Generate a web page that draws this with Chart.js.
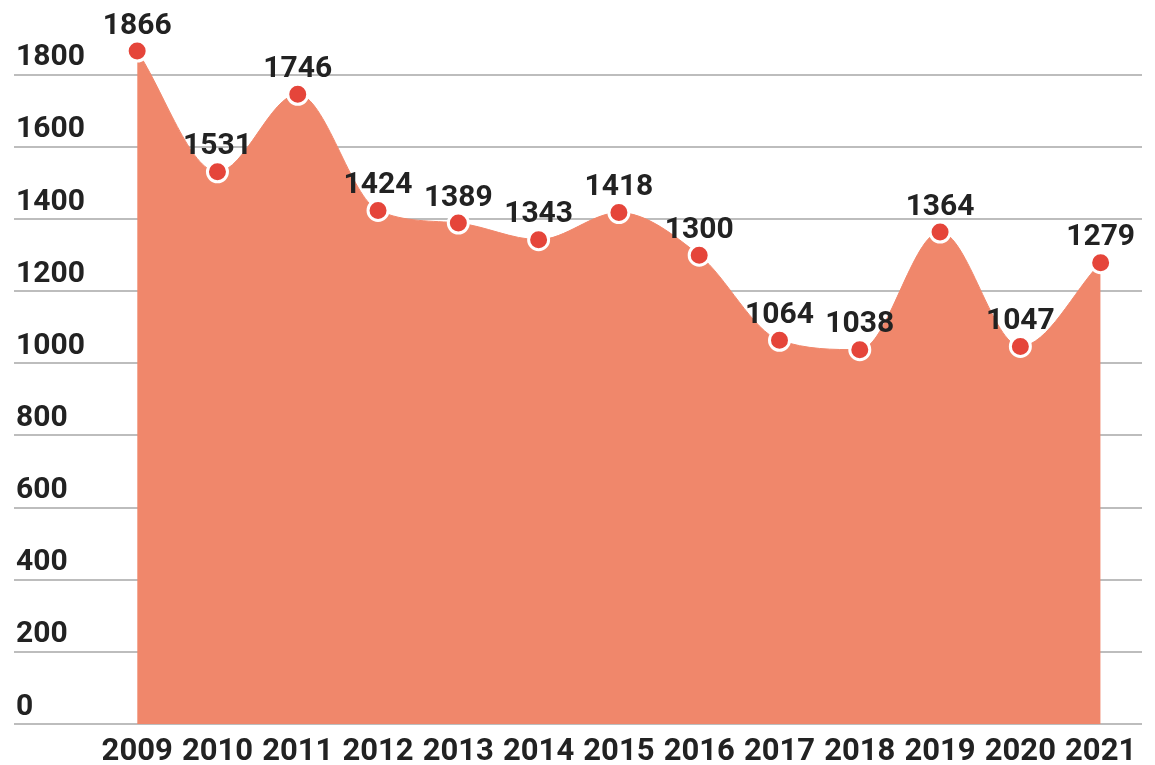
<!DOCTYPE html>
<html>
<head>
<meta charset="utf-8">
<script src="https://cdn.jsdelivr.net/npm/chart.js@4"></script>
<style>
  html, body { margin:0; padding:0; background:#fff; }
  #wrap { width:1155px; height:765px; }
</style>
</head>
<body>
<div id="wrap"><canvas id="chart" width="1155" height="765"></canvas></div>
<script>
// data
var years = [2009, 2010, 2011, 2012, 2013, 2014, 2015, 2016, 2017, 2018, 2019, 2020, 2021];
var values = [1866, 1531, 1746, 1424, 1389, 1343, 1418, 1300, 1064, 1038, 1364, 1047, 1279];
var yTicks = [0, 200, 400, 600, 800, 1000, 1200, 1400, 1600, 1800];

var points = [];
for (var i = 0; i < years.length; i++) {
    points.push({x: years[i], y: values[i]});
}

Chart.defaults.font.family = "Roboto";

// numbers above the points
var valueLabels = {
    id: 'valueLabels',
    afterDatasetsDraw: function(chart) {
        var ctx = chart.ctx;
        var meta = chart.getDatasetMeta(0);
        ctx.save();
        ctx.font = "bold 30px Roboto";
        ctx.fillStyle = "#222";
        ctx.textAlign = "center";
        ctx.textBaseline = "bottom";
        meta.data.forEach(function(p, i) {
            ctx.fillText(String(values[i]), p.x, p.y - 10);
        });
        ctx.restore();
    }
};

chart = new Chart(document.getElementById("chart"), {
    type: 'line',
    data: {
        datasets: [{
            data: points,
            fill: 'origin',
            backgroundColor: '#F0876B',
            borderColor: '#F0876B',
            borderWidth: 1,
            cubicInterpolationMode: 'monotone',
            pointRadius: 10,
            pointBorderWidth: 3,
            pointBackgroundColor: '#E5453A',
            pointBorderColor: '#fff'
        }]
    },
    options: {
        responsive: false,
        animation: false,
        layout: { padding: { left: 10, top: 0, right: 0, bottom: -16 } },
        plugins: { legend: { display: false }, tooltip: { enabled: false } },
        scales: {
            x: {
                type: 'linear',
                min: 2007.466,
                max: 2021.515,
                afterBuildTicks: function(axis) {
                    axis.ticks = years.map(function(y) { return {value: y}; });
                },
                grid: { display: false, tickLength: 0 },
                border: { display: false },
                ticks: {
                    autoSkip: false,
                    maxRotation: 0,
                    padding: 13,
                    color: '#222',
                    font: { size: 31, weight: 'bold', lineHeight: 1 },
                    callback: function(v) { return String(v); }
                }
            },
            y: {
                min: 0,
                max: 1952,
                afterBuildTicks: function(axis) {
                    axis.ticks = yTicks.map(function(v) { return {value: v}; });
                },
                border: { display: false },
                grid: { color: '#bdbdbd', lineWidth: 2, drawTicks: false },
                ticks: {
                    mirror: true,
                    padding: 2,
                    labelOffset: -17,
                    color: '#222',
                    font: { size: 30, weight: 'bold' },
                    callback: function(v) { return String(v); }
                }
            }
        }
    },
    plugins: [valueLabels]
});
</script>
</body>
</html>
